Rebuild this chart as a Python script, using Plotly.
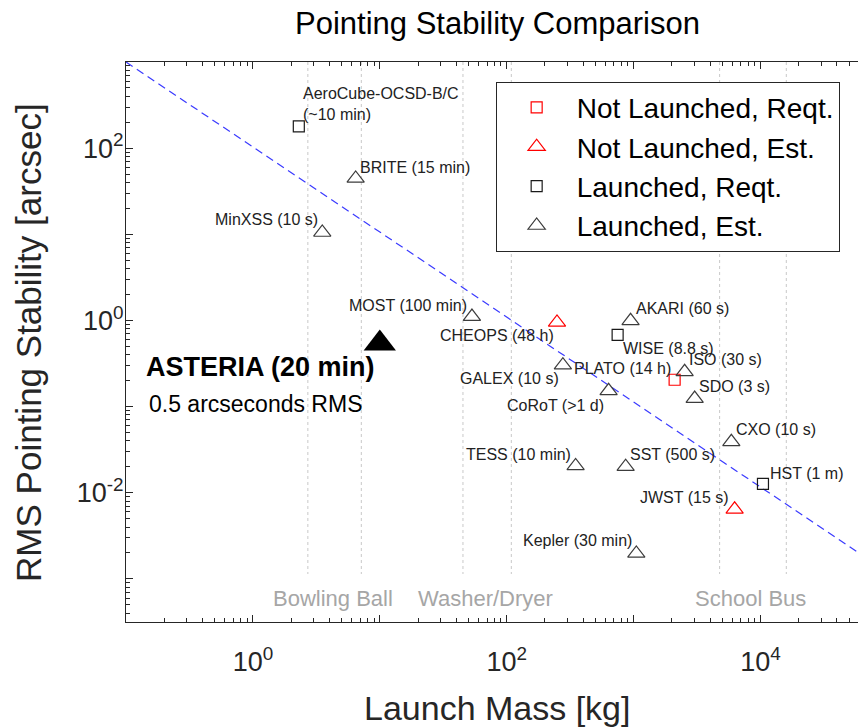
import plotly.graph_objects as go
import math

# ---------------- data ----------------
names = ["AeroCube-OCSD-B/C<br>(~10 min)", "BRITE (15 min)", "MinXSS (10 s)", "MOST (100 min)",
         "CHEOPS (48 h)", "WISE (8.8 s)", "AKARI (60 s)", "GALEX (10 s)", "PLATO (14 h)",
         "CoRoT (>1 d)", "ISO (30 s)", "SDO (3 s)", "CXO (10 s)", "TESS (10 min)",
         "SST (500 s)", "HST (1 m)", "JWST (15 s)", "Kepler (30 min)"]
mass = [2.30, 6.45, 3.52, 53.2, 249, 748, 946, 277, 2104, 635, 2523, 3027, 5888, 349, 865,
        10450, 6250, 1050]
stability = [179, 44.6, 10.5, 1.11, 0.948, 0.682, 0.99, 0.303, 0.205, 0.1526, 0.2536, 0.124,
             0.039, 0.0205, 0.0201, 0.0127, 0.00643, 0.00198]
category = ["Launched, Reqt.", "Launched, Est.", "Launched, Est.", "Launched, Est.",
            "Not Launched, Est.", "Launched, Reqt.", "Launched, Est.", "Launched, Est.",
            "Not Launched, Reqt.", "Launched, Est.", "Launched, Est.", "Launched, Est.",
            "Launched, Est.", "Launched, Est.", "Launched, Est.", "Launched, Reqt.",
            "Not Launched, Est.", "Launched, Est."]

asteria_mass = [10.0]
asteria_stability = [0.54]

trend_mass = [0.1, 100000]
trend_stability = [1000, 0.00120]

ref_names = ["Bowling Ball", "Washer/Dryer", "School Bus"]
ref_low = [2.71, 45.2, 4760]
ref_high = [7.15, 108.7, 15960]
ref_line_top = 1000
ref_line_bottom = 0.00114
ref_label_y = 0.000586

x_labeled = [1, 100, 10000]
x_ticktext = ["10<sup>0</sup>", "10<sup>2</sup>", "10<sup>4</sup>"]
x_unlabeled = [0.1, 10, 1000]
y_labeled = [0.01, 1, 100]
y_ticktext = ["10<sup>-2</sup>", "10<sup>0</sup>", "10<sup>2</sup>"]
y_unlabeled = [0.001, 0.1, 10, 1000]
x_decades = [0.1, 1, 10, 100, 1000, 10000]
y_decades = [0.0001, 0.001, 0.01, 0.1, 1, 10, 100]

# ---------------- styling / placement ----------------
FONT = "Liberation Sans, Arial, Helvetica, sans-serif"
AX = "#262626"
styles = {
    "Not Launched, Reqt.": dict(symbol="square-open", color="#ff0000", size=11),
    "Not Launched, Est.": dict(symbol="triangle-up-open", color="#ff0000", size=15),
    "Launched, Reqt.": dict(symbol="square-open", color="#1a1a1a", size=11),
    "Launched, Est.": dict(symbol="triangle-up-open", color="#3c3c3c", size=15),
}
# (anchor side, xshift px, yshift px) for each label
label_place = [("left", 3, 22), ("left", 3, 11), ("right", -3, 12.5), ("right", -4, 11.5),
               ("right", -2, -13), ("left", 4, -14), ("left", 4, 12), ("right", -3, -13.5),
               ("right", -3, 11), ("right", -4, -14.5), ("left", 3, 12), ("left", 3, 12),
               ("left", 4, 12), ("right", -4, 11.5), ("left", 3, 12), ("left", 6, 10.5),
               ("right", -5, 12), ("right", -3, 12.5)]

fig = go.Figure()

# reference vertical dotted lines
vx, vy = [], []
for lo, hi in zip(ref_low, ref_high):
    for v in (lo, hi):
        vx += [v, v, None]
        vy += [ref_line_top, ref_line_bottom, None]
fig.add_trace(go.Scatter(x=vx, y=vy, mode="lines", showlegend=False, hoverinfo="skip",
                         line=dict(color="#c8c8c8", width=1, dash="dot")))

# trend line
fig.add_trace(go.Scatter(x=trend_mass, y=trend_stability, mode="lines", showlegend=False,
                         hoverinfo="skip",
                         line=dict(color="#3a3aff", width=1.2, dash="8px,5px")))

for cat in ["Not Launched, Reqt.", "Not Launched, Est.", "Launched, Reqt.", "Launched, Est."]:
    xs = [m for m, c in zip(mass, category) if c == cat]
    ys = [s for s, c in zip(stability, category) if c == cat]
    st = styles[cat]
    fig.add_trace(go.Scatter(
        x=xs, y=ys, mode="markers", name=cat,
        marker=dict(symbol=st["symbol"], size=st["size"], color=st["color"],
                    line=dict(color=st["color"], width=1.2))))

fig.add_trace(go.Scatter(x=asteria_mass, y=asteria_stability, mode="markers", showlegend=False,
                         marker=dict(symbol="triangle-up", size=28, color="black",
                                     line=dict(width=0))))

# invisible trace on the overlay axes so they are drawn
fig.add_trace(go.Scatter(x=[1], y=[1], xaxis="x2", yaxis="y2", mode="markers",
                         marker=dict(opacity=0), showlegend=False, hoverinfo="skip"))

ann = []
for n, m, s, (side, dx, dy) in zip(names, mass, stability, label_place):
    ann.append(dict(x=math.log10(m), y=math.log10(s), xref="x", yref="y", text=n,
                    showarrow=False, xanchor=side, yanchor="middle", xshift=dx, yshift=dy,
                    align="left", borderpad=0,
                    font=dict(family=FONT, size=16, color="#222222")))

for nm, lo, hi in zip(ref_names, ref_low, ref_high):
    ann.append(dict(x=(math.log10(lo) + math.log10(hi)) / 2, y=math.log10(ref_label_y),
                    xref="x", yref="y", text=nm, showarrow=False, xanchor="center",
                    yanchor="middle", xshift=-2,
                    font=dict(family=FONT, size=22, color="#a6a6a6")))

ann.append(dict(x=math.log10(0.140), y=math.log10(0.287), xref="x", yref="y",
                text="<b>ASTERIA (20 min)</b>", showarrow=False, xanchor="left",
                yanchor="middle", borderpad=0, font=dict(family=FONT, size=27, color="black")))
ann.append(dict(x=math.log10(0.149), y=math.log10(0.108), xref="x", yref="y",
                text="0.5 arcseconds RMS", showarrow=False, xanchor="left",
                yanchor="middle", borderpad=0, font=dict(family=FONT, size=23, color="black")))

# titles
ann.append(dict(x=0.507, y=1.0696, xref="paper", yref="paper", text="Pointing Stability Comparison",
                showarrow=False, xanchor="center", yanchor="middle",
                font=dict(family=FONT, size=31, color="black")))
ann.append(dict(x=0.507, y=-0.153, xref="paper", yref="paper", text="Launch Mass [kg]",
                showarrow=False, xanchor="center", yanchor="middle", borderpad=0,
                font=dict(family=FONT, size=34, color=AX)))
ann.append(dict(x=-0.134, y=0.5, xref="paper", yref="paper", text="RMS Pointing Stability [arcsec]",
                showarrow=False, xanchor="center", yanchor="middle", textangle=-90,
                font=dict(family=FONT, size=35, color=AX)))

x_minor = [k * d for d in x_decades for k in range(2, 10)]
y_minor = [k * d for d in y_decades for k in range(2, 10)]

XR = [-1, 4.768]
YR = [-3.5, 3]

fig.update_layout(
    width=858, height=727,
    margin=dict(l=126, r=0, t=62, b=105),
    paper_bgcolor="white", plot_bgcolor="white",
    font=dict(family=FONT, color=AX),
    showlegend=True,
    legend=dict(x=0.505, y=0.965, xanchor="left", yanchor="top",
                bgcolor="white", bordercolor=AX, borderwidth=1,
                font=dict(family=FONT, size=28, color="black"),
                itemwidth=70, tracegroupgap=0),
    annotations=ann,
    xaxis=dict(type="log", range=XR, showgrid=False, zeroline=False,
               showline=True, linecolor=AX, linewidth=1, mirror="allticks",
               ticks="inside", ticklen=7, tickcolor=AX,
               tickmode="array", tickvals=x_labeled, ticktext=x_ticktext,
               tickfont=dict(family=FONT, size=27, color=AX), ticklabelstandoff=16,
               minor=dict(tickmode="array", tickvals=x_minor, ticks="inside", ticklen=4,
                          tickcolor=AX, showgrid=False)),
    yaxis=dict(type="log", range=YR, showgrid=False, zeroline=False,
               showline=True, linecolor=AX, linewidth=1, mirror=False,
               ticks="inside", ticklen=7, tickcolor=AX,
               tickmode="array", tickvals=y_labeled, ticktext=y_ticktext,
               tickfont=dict(family=FONT, size=27, color=AX), ticklabelstandoff=-4,
               minor=dict(tickmode="array", tickvals=y_minor, ticks="inside", ticklen=4,
                          tickcolor=AX, showgrid=False)),
    xaxis2=dict(type="log", range=XR, overlaying="x", anchor="y2", side="bottom",
                showgrid=False, zeroline=False, showline=False, mirror="allticks",
                ticks="inside", ticklen=7, tickcolor=AX, showticklabels=False,
                tickmode="array", tickvals=x_unlabeled),
    yaxis2=dict(type="log", range=YR, overlaying="y", anchor="x2", side="left",
                showgrid=False, zeroline=False, showline=False,
                ticks="inside", ticklen=7, tickcolor=AX, showticklabels=False,
                tickmode="array", tickvals=y_unlabeled),
)

fig.write_html("out.html")
